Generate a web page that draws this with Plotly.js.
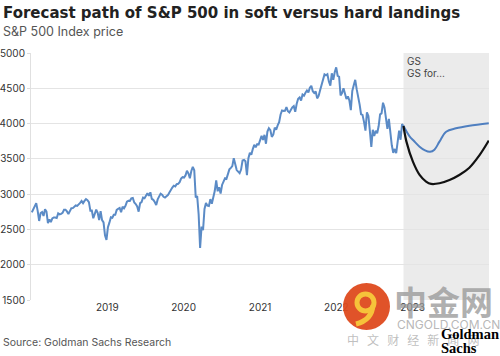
<!DOCTYPE html>
<html><head><meta charset="utf-8">
<script src="https://cdn.plot.ly/plotly-3.0.1.min.js"></script>
<style>html,body{margin:0;padding:0;background:#fff}#chart{width:500px;height:356px}</style>
</head><body><div id="chart"></div>
<script>
// ---- DATA ----
// S&P 500 weekly closes (Fridays), starting 2018-01-05
const spxStart = '2018-01-05';
const spx2018 = [2743,2786,2810,2873,2762,2620,2732,2747,2691,2786,2752,2588,2641,2604,2656,2670,2670,2663,2728,2713,2721,2735,2779,2780,2755,2718,2760,2801,2802,2819,2840,2833,2850,2875,2902,2872,2905,2930,2914,2886,2767,2768,2659,2723,2781,2736,2633,2760,2633,2600,2417,2351];
const spx2019 = [2532,2596,2671,2665,2707,2708,2776,2793,2804,2743,2822,2800,2834,2893,2907,2905,2940,2946,2881,2860,2826,2752,2873,2887,2950,2942,2990,3014,2977,3026,2932,2919,2889,2847,2926,2979,3007,2992,2962,2952,2970,2986,3023,3067,3093,3120,3110,3141,3146,3169,3221,3240];
const spx2020 = [3235,3265,3330,3295,3226,3328,3386,3338,2954,2972,2711,2237,2541,2489,2790,2875,2837,2831,2930,2864,2955,3044,3194,3041,3098,3009,3130,3185,3225,3216,3271,3351,3373,3397,3508,3427,3341,3319,3298,3348,3477,3484,3465,3270,3510,3585,3558,3638,3699,3663,3709,3703];
const spx2021 = [3756,3825,3768,3841,3714,3887,3934,3907,3811,3842,3943,3913,3975,4020,4129,4185,4180,4181,4233,4174,4156,4204,4230,4247,4166,4281,4352,4370,4327,4412,4395,4437,4468,4442,4509,4535,4459,4433,4455,4357,4391,4471,4545,4605,4697,4683,4698,4595,4538,4712,4620,4726,4796];
const spx2022 = [4677,4663,4398,4432,4500,4419,4349,4385,4329,4190,4463,4543,4620,4488,4392,4272,4132,4123,4024,3901,4158,4109,3901,3670,3912,3825,3899,3863,3962,4130,4145,4295,4228,4058,3924,4067,3873,3693,3586,3640,3580,3753,3901,3771,3993,3965];

// Goldman Sachs forecast paths
const softDates = ['2022-11-18','2022-12-18','2023-01-05','2023-02-03','2023-03-01','2023-03-25','2023-04-15','2023-05-09','2023-06-10','2023-07-27','2023-09-29','2023-12-31'];
const softValues = [3965,3815,3760,3673,3620,3600,3630,3744,3885,3933,3970,4005];
const hardDates = ['2022-11-18','2022-12-02','2023-01-02','2023-02-03','2023-03-06','2023-03-30','2023-05-09','2023-06-26','2023-08-12','2023-09-29','2023-11-16','2023-12-31'];
const hardValues = [3965,3744,3460,3272,3178,3145,3154,3201,3272,3375,3550,3760];

const xTickVals = ['2019-01-01','2020-01-01','2021-01-01','2022-01-01','2023-01-01','2024-01-01'];
const xTickText = ['2019','2020','2021','2022','2023','2024'];
const xRange = ['2018-01-01','2024-01-01'];
const yRange = [1500, 5000];

// ---- BUILD ----
const spxValues = spx2018.concat(spx2019, spx2020, spx2021, spx2022);
const d0 = new Date(spxStart + 'T00:00:00Z').getTime();
const spxDates = spxValues.map((_, i) => new Date(d0 + i * 7 * 864e5).toISOString().slice(0, 10));

const PL = 31, PR = 489, PT = 53, PB = 300;
const px = x => (x - PL) / (PR - PL);
const py = y => (PB - y) / (PB - PT);

const font = 'Inter, "Open Sans", Arial, sans-serif';
const cjk = '"Noto Sans CJK SC", sans-serif';
const serif = '"Liberation Serif", "DejaVu Serif", serif';

const traces = [
  {x: spxDates, y: spxValues, type: 'scatter', mode: 'lines', name: 'S&P 500',
   line: {color: '#5b8bc6', width: 2}, hoverinfo: 'skip'},
  {x: softDates, y: softValues, type: 'scatter', mode: 'lines', name: 'GS soft landing',
   line: {color: '#4f7fc0', width: 2, shape: 'spline', smoothing: 1}, hoverinfo: 'skip'},
  {x: hardDates, y: hardValues, type: 'scatter', mode: 'lines', name: 'GS hard landing',
   line: {color: '#111111', width: 2.2, shape: 'spline', smoothing: 1}, hoverinfo: 'skip'}
];

const ann = (x, y, text, size, color, fam) => ({
  xref: 'paper', yref: 'paper', x: px(x), y: py(y), text: text, showarrow: false,
  xanchor: 'left', yanchor: 'middle', font: {family: fam || font, size: size, color: color}
});

const nb = '&nbsp;&nbsp;&nbsp;';

const layout = {
  width: 500, height: 356,
  margin: {l: PL, r: 500 - PR, t: PT, b: 356 - PB, pad: 0},
  paper_bgcolor: '#ffffff', plot_bgcolor: '#ffffff',
  showlegend: false,
  font: {family: font, color: '#333'},
  xaxis: {type: 'date', range: xRange, tickvals: xTickVals, ticktext: xTickText,
          showgrid: false, zeroline: false, showline: false, ticks: '',
          tickfont: {family: font, size: 10, color: '#333'}, fixedrange: true},
  yaxis: {range: yRange, dtick: 500, tick0: 1500, showgrid: true, gridcolor: '#e4e4e4', gridwidth: 1,
          zeroline: false, showline: true, linecolor: '#e0e0e0', linewidth: 1,
          ticks: 'outside', ticklen: 3, tickcolor: '#dcdcdc',
          tickfont: {family: font, size: 10, color: '#333'}, fixedrange: true},
  shapes: [
    {type: 'rect', xref: 'x', yref: 'paper', x0: softDates[0], x1: xRange[1], y0: 0, y1: 1,
     fillcolor: '#ebebeb', line: {width: 0}, layer: 'below'},
    // watermark circle logo
    {type: 'circle', xref: 'paper', yref: 'paper', x0: px(343), x1: px(390), y0: py(330), y1: py(283),
     fillcolor: '#de4a1e', line: {width: 0}, opacity: 0.95},
    {type: 'circle', xref: 'paper', yref: 'paper', x0: px(357), x1: px(374), y0: py(311), y1: py(294),
     fillcolor: 'rgba(0,0,0,0)', line: {color: '#f6c33a', width: 5}},
    {type: 'path', xref: 'paper', yref: 'paper',
     path: `M ${px(373)},${py(305)} Q ${px(372)},${py(320)} ${px(356)},${py(324)}`,
     line: {color: '#f6c33a', width: 5}}
  ],
  annotations: [
    ann(1, 13, '<b>Forecast path of S&P 500 in soft versus hard landings</b>', 15, '#222', '"DejaVu Sans", "Open Sans", sans-serif'),
    ann(1, 31, 'S&P 500 Index price', 12.5, '#555'),
    ann(405, 60.5, 'GS', 10, '#444'),
    ann(405, 72.5, 'GS for…', 10, '#444'),
    ann(1, 342, 'Source: Goldman Sachs Research', 10.5, '#555'),
    ann(392, 301, '<b>中金网</b>', 33, 'rgba(150,150,150,0.75)', cjk),
    ann(395, 324, 'CNGOLD.COM.CN', 12, 'rgba(165,165,165,0.8)'),
    ann(345, 339, ['中','文','财','经','新','闻','网'].join(nb), 12, 'rgba(175,175,175,0.8)', cjk),
    ann(439, 334, '<b>Goldman</b>', 14.5, '#000', serif),
    ann(439, 348, '<b>Sachs</b>', 14.5, '#000', serif)
  ]
};

Plotly.newPlot('chart', traces, layout, {staticPlot: true, displayModeBar: false});
</script>
</body></html>
